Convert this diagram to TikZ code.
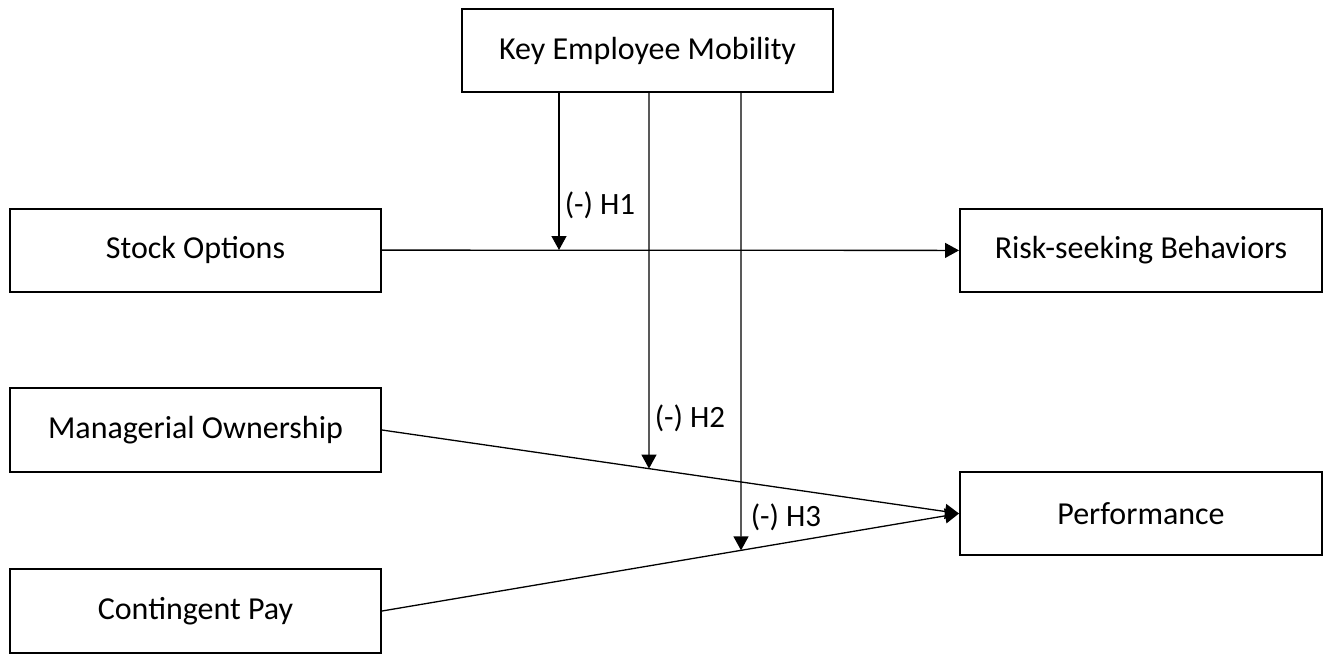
\documentclass[tikz,border=0pt]{standalone}
\usepackage{fontspec}
\setmainfont{Carlito}
\usetikzlibrary{arrows.meta}
\tikzset{
  box/.style={draw, line width=2pt, minimum width=371pt, minimum height=83pt, font=\fontsize{32}{36}\selectfont},
  hyp/.style={font=\fontsize{31}{35}\selectfont, inner sep=0pt},
  link/.style={line width=1.3pt, -{Triangle[width=15pt,length=14pt]}}
}
\begin{document}
\begin{tikzpicture}[x=1pt,y=-1pt]
      \useasboundingbox (0,0) rectangle (1328,654);
      \draw
        (647.5,50.5) node[box] (kem){Key Employee Mobility}
        (195.5,250) node[box] (so){Stock Options}
        (1141,250.5) node[box, minimum width=362pt] (rsb){Risk-seeking Behaviors}
        (195.5,430) node[box, minimum height=84pt] (mo){Managerial Ownership}
        (1141,513.5) node[box, minimum width=362pt] (perf){Performance}
        (195.5,611) node[box, minimum height=84pt] (cp){Contingent Pay};
      % moderator lines leave the top box
      \coordinate (t1) at (559,92);
      \coordinate (t2) at (649,92);
      \coordinate (t3) at (741,92);
      \coordinate (m1) at (t1 |- so.east);
      \coordinate (m2) at (intersection of t2--{649,600} and mo.east--perf.west);
      \coordinate (m3) at (intersection of t3--{741,650} and cp.east--perf.west);
      \begin{scope}[link]
        \draw (so) to (rsb);
        \draw (mo.east) to (perf.west);
        \draw (cp.east) to (perf.west);
        \draw (t1) to (m1);
        \draw (t2) to (m2);
        \draw (t3) to (m3);
      \end{scope}
      \node[hyp] (h1) at (600,205) {(-) H1};
      \node[hyp] (h2) at (690,418) {(-) H2};
      \node[hyp] (h3) at (786,517) {(-) H3};
    \end{tikzpicture}
\end{document}
